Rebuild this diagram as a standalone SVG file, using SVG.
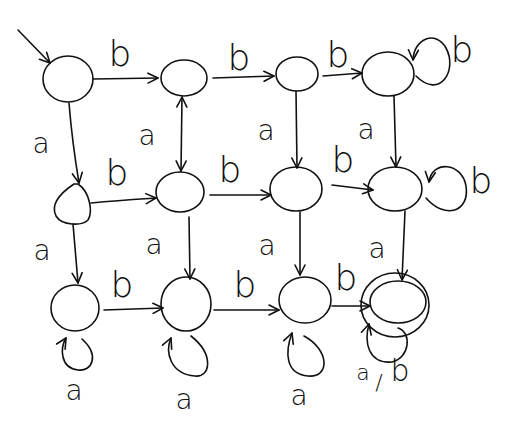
<svg xmlns="http://www.w3.org/2000/svg" width="508" height="422" viewBox="0 0 508 422">
  <style>
    .st { fill: none; stroke: #111; stroke-width: 1.6; stroke-linecap: round; stroke-linejoin: round; }
    .lb { font-family: "DejaVu Sans", "Liberation Sans", sans-serif; font-weight: 200; fill: #111; text-anchor: middle; }
    .la { font-size: 28px; }
    .lbb { font-size: 36px; }
  </style>
  <defs>
    <marker id="arr" viewBox="0 0 12 12" refX="11" refY="6" markerWidth="12" markerHeight="12" markerUnits="userSpaceOnUse" orient="auto-start-reverse">
      <path d="M1,1 L11,6 L1,11" fill="none" stroke="#111" stroke-width="1.6" stroke-linecap="round" stroke-linejoin="round"/>
    </marker>
  </defs>
  <rect width="508" height="422" fill="#fff"/>

  <!-- states -->
  <g id="q0"><ellipse class="st" cx="68" cy="79" rx="25" ry="23"/></g>
  <g id="q1"><ellipse class="st" cx="184" cy="78" rx="23" ry="18"/></g>
  <g id="q2"><ellipse class="st" cx="297" cy="74" rx="21" ry="17"/></g>
  <g id="q3"><ellipse class="st" cx="388" cy="74" rx="26" ry="22"/></g>
  <g id="q4"><path class="st" d="M78,184 C90,192 93,212 88,220 C82,226 62,226 56,216 C50,204 62,192 74,184 Z"/></g>
  <g id="q5"><ellipse class="st" cx="180" cy="192" rx="24" ry="20"/></g>
  <g id="q6"><ellipse class="st" cx="296" cy="189" rx="26" ry="22"/></g>
  <g id="q7"><ellipse class="st" cx="395" cy="189" rx="27" ry="22"/></g>
  <g id="q8"><ellipse class="st" cx="75" cy="308" rx="24" ry="23"/></g>
  <g id="q9"><ellipse class="st" cx="186" cy="304" rx="25" ry="27"/></g>
  <g id="q10"><ellipse class="st" cx="305" cy="300" rx="26" ry="23"/></g>
  <g id="q11">
    <ellipse class="st" cx="395" cy="305" rx="34" ry="32"/>
    <ellipse class="st" cx="398" cy="302" rx="28" ry="21"/>
  </g>

  <!-- transitions -->
  <g id="edges">
    <path class="st" marker-end="url(#arr)" d="M18,30 L50,63"/>
    <path class="st" marker-end="url(#arr)" d="M93,79 L158,78"/>
    <path class="st" marker-end="url(#arr)" d="M213,78 L274,76"/>
    <path class="st" marker-end="url(#arr)" d="M323,76 L362,73"/>
    <path class="st" marker-end="url(#arr)" d="M69,103 C72,140 76,165 79,183"/>
    <path class="st" marker-start="url(#arr)" marker-end="url(#arr)" d="M182,97 L181,171"/>
    <path class="st" marker-end="url(#arr)" d="M296,91 L297,168"/>
    <path class="st" marker-end="url(#arr)" d="M394,96 L396,167"/>
    <path class="st" marker-end="url(#arr)" d="M91,203 C120,200 140,199 156,198"/>
    <path class="st" marker-end="url(#arr)" d="M210,195 L271,195"/>
    <path class="st" marker-end="url(#arr)" d="M332,185 L373,190"/>
    <path class="st" marker-end="url(#arr)" d="M73,224 L78,283"/>
    <path class="st" marker-end="url(#arr)" d="M189,217 L190,279"/>
    <path class="st" marker-end="url(#arr)" d="M300,212 L300,275"/>
    <path class="st" marker-end="url(#arr)" d="M405,211 L402,280"/>
    <path class="st" marker-end="url(#arr)" d="M104,310 L163,308"/>
    <path class="st" marker-end="url(#arr)" d="M214,310 L279,310"/>
    <path class="st" marker-end="url(#arr)" d="M332,306 L370,306"/>
    <!-- self loops -->
    <path class="st" marker-end="url(#arr)" d="M416,76 C440,100 458,70 446,48 C436,30 414,38 413,60"/>
    <path class="st" marker-end="url(#arr)" d="M426,198 C445,220 470,212 466,186 C462,162 432,160 429,182"/>
    <path class="st" marker-end="url(#arr)" d="M82,339 C100,355 92,372 78,370 C60,368 60,348 66,338"/>
    <path class="st" marker-end="url(#arr)" d="M191,336 C215,355 210,378 195,376 C170,374 165,352 171,338"/>
    <path class="st" marker-end="url(#arr)" d="M304,336 C330,350 330,378 308,376 C285,374 285,352 292,333"/>
    <path class="st" marker-end="url(#arr)" d="M398,328 C412,332 410,358 392,362 C368,364 364,342 369,324"/>
  </g>

  <!-- labels -->
  <g id="labels">
    <text class="lb lbb" x="120" y="66">b</text>
    <text class="lb lbb" x="239" y="70">b</text>
    <text class="lb lbb" x="338" y="67">b</text>
    <text class="lb lbb" x="462" y="62">b</text>
    <text class="lb la" x="41" y="153">a</text>
    <text class="lb la" x="147" y="145">a</text>
    <text class="lb la" x="266" y="140">a</text>
    <text class="lb la" x="366" y="139">a</text>
    <text class="lb lbb" x="117" y="185">b</text>
    <text class="lb lbb" x="230" y="182">b</text>
    <text class="lb lbb" x="343" y="172">b</text>
    <text class="lb lbb" x="481" y="193">b</text>
    <text class="lb la" x="42" y="260">a</text>
    <text class="lb la" x="154" y="254">a</text>
    <text class="lb la" x="267" y="255">a</text>
    <text class="lb la" x="377" y="258">a</text>
    <text class="lb lbb" x="122" y="297">b</text>
    <text class="lb lbb" x="245" y="297">b</text>
    <text class="lb lbb" x="346" y="290">b</text>
    <text class="lb la" x="74" y="400">a</text>
    <text class="lb la" x="184" y="409">a</text>
    <text class="lb la" x="299" y="405">a</text>
    <text class="lb" x="363" y="380" style="font-size:22px">a<tspan x="379" y="390">/</tspan><tspan x="400" y="381" style="font-size:30px">b</tspan></text>
  </g>
</svg>
